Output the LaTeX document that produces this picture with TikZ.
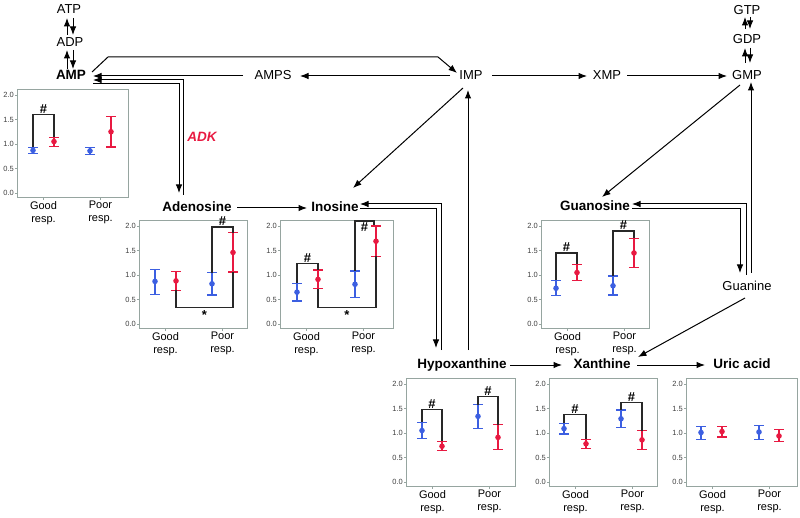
\documentclass[tikz,border=0pt]{standalone}
\usepackage{fontspec}
\setmainfont{Liberation Sans}
\usetikzlibrary{arrows.meta, calc}
\definecolor{grpblue}{RGB}{60,95,225}
\definecolor{grpred}{RGB}{232,25,65}
\definecolor{framegray}{RGB}{150,165,160}
\definecolor{brkgray}{RGB}{40,40,40}

% error bar: colour, x, mean, low, high
\newcommand{\ebar}[5]{%
  \draw[#1, line width=1.2pt] (#2-5,#4) -- (#2+5,#4) (#2,#4) -- (#2,#5) (#2-5,#5) -- (#2+5,#5);
  \fill[#1] (#2,#3) circle[radius=2.8pt];}

% panel: name, left edge, zero line, width
\newenvironment{panel}[4]{%
  \begin{scope}[shift={(#2pt,-#3pt)}, y=49pt, name prefix=#1-]
  \draw[framegray, line width=0.8pt] (0,-0.09) rectangle (#4,2.11);
  \foreach \v [count=\i] in {0.0,0.5,1.0,1.5,2.0}
    \draw[framegray] (0,\v) -- (-2.5,\v) node[left, ticklbl] (tk\i) {\v};
  \draw[framegray] (26.5,-0.09) -- ++(0,-2.5pt) node[xlbl] (good) {Good\\resp.};
  \draw[framegray] (83.5,-0.09) -- ++(0,-2.5pt) node[xlbl] (poor) {Poor\\resp.};
}{\end{scope}}

\begin{document}
\begin{tikzpicture}[x=1pt, y=-1pt,
  met/.style={font=\fontsize{13}{15}\selectfont, inner sep=1pt, text height=9.5pt, text depth=2.5pt},
  metb/.style={met, font=\fontsize{13.5}{15}\selectfont\bfseries},
  arr/.style={-{Latex[length=8.5pt,width=6.5pt]}, line width=1pt},
  ticklbl/.style={font=\fontsize{7.5}{8}\selectfont, text=black!75, inner sep=0.5pt},
  xlbl/.style={font=\fontsize{11}{13}\selectfont, text=black, align=center, inner sep=1pt, anchor=north},
  brk/.style={brkgray, line width=1.3pt},
  sig/.style={font=\fontsize{13}{13}\selectfont\bfseries, text=black, inner sep=0.5pt}]
\useasboundingbox (0,0) rectangle (800,518);

% metabolites
\node[met] (atp) at (69,10) {ATP};
\node[met] (adp) at (70,43) {ADP};
\node[metb] (amp) at (71,76) {AMP};
\node[met] (amps) at (273,76) {AMPS};
\node[met] (imp) at (471,76) {IMP};
\node[met] (xmp) at (607,76) {XMP};
\node[met] (gmp) at (747,76) {GMP};
\node[met] (gdp) at (747,40) {GDP};
\node[met] (gtp) at (747,11) {GTP};
\node[metb] (ado) at (197,208) {Adenosine};
\node[metb] (ino) at (335,208) {Inosine};
\node[metb] (guo) at (595,207) {Guanosine};
\node[met] (gua) at (747,287) {Guanine};
\node[metb] (hyp) at (462,365) {Hypoxanthine};
\node[metb] (xan) at (602,365) {Xanthine};
\node[metb] (uri) at (742,365) {Uric acid};
\node[font=\fontsize{13.5}{15}\selectfont\bfseries\itshape, text=grpred] (adk) at (202,137) {ADK};

% phosphate pools
\draw[arr] ([shift={(4,8)}]atp.center) -- ([shift={(3,-8)}]adp.center);
\draw[arr] ([shift={(-3,-8)}]adp.center) -- ([shift={(-2,8)}]atp.center);
\draw[arr] ([shift={(3,7)}]adp.center) -- ([shift={(2,-7)}]amp.center);
\draw[arr] ([shift={(-4,-7)}]amp.center) -- ([shift={(-3,7)}]adp.center);
\draw[arr] ([shift={(3,6)}]gtp.center) -- ([shift={(3,-11)}]gdp.center);
\draw[arr] ([shift={(-2,-11)}]gdp.center) -- ([shift={(-2,6)}]gtp.center);
\draw[arr] ([shift={(3,8)}]gdp.center) -- ([shift={(3,-13)}]gmp.center);
\draw[arr] ([shift={(-2,-13)}]gmp.center) -- ([shift={(-2,8)}]gdp.center);

% pathway
\draw[arr] ([shift={(21,-4)}]amp.center) -- ++(16,-15) -- ([shift={(-33,-19)}]imp.center) -- ([shift={(-14,-3)}]imp.center);
\draw[arr] ([shift={(-21,0)}]imp.center) -- ([shift={(27,0)}]amps.center);
\draw[arr] ([shift={(-30,0)}]amps.center) -- ([shift={(22,0)}]amp.center);
\draw[arr] ([shift={(-14,-13)}]ado.center) |- ([shift={(22,4)}]amp.center);
\draw[arr] ([shift={(22,8)}]amp.center) -| ([shift={(-18,-15)}]ado.center);
\draw[arr] ([shift={(21,0)}]imp.center) -- ([shift={(-20,0)}]xmp.center);
\draw[arr] ([shift={(20,0)}]xmp.center) -- ([shift={(-20,0)}]gmp.center);
\draw[arr] ([shift={(-8,12)}]imp.center) -- ([shift={(18,-20)}]ino.center);
\draw[arr] ([shift={(6,-15)}]hyp.center) -- ([shift={(-3,14)}]imp.center);
\draw[arr] ([shift={(40,0)}]ado.center) -- ([shift={(-28,0)}]ino.center);
\draw[arr] ([shift={(25,1)}]ino.center) -| ([shift={(-26,-17)}]hyp.center);
\draw[arr] ([shift={(-21,-15)}]hyp.center) |- ([shift={(25,-4)}]ino.center);
\draw[arr] ([shift={(-7,9)}]gmp.center) -- ([shift={(7,-10)}]guo.center);
\draw[arr] ([shift={(4,-14)}]gua.center) -- ([shift={(4,6)}]gmp.center);
\draw[arr] ([shift={(37,2)}]guo.center) -| ([shift={(-7,-14)}]gua.center);
\draw[arr] ([shift={(-1,-12)}]gua.center) |- ([shift={(37,-3)}]guo.center);
\draw[arr] ([shift={(-2,11)}]gua.center) -- ([shift={(36,-8)}]xan.center);
\draw[arr] ([shift={(48,0)}]hyp.center) -- ([shift={(-40,0)}]xan.center);
\draw[arr] ([shift={(35,0)}]xan.center) -- ([shift={(-37,0)}]uri.center);

% panels
\begin{panel}{amp}{17}{193}{111}
  \ebar{grpblue}{16}{0.87}{0.80}{0.93}
  \ebar{grpred}{37}{1.05}{0.95}{1.14}
  \ebar{grpblue}{73}{0.86}{0.79}{0.93}
  \ebar{grpred}{94}{1.25}{0.94}{1.56}
  \draw[brk] (16,0.93) |- node[pos=0.75,above,sig] (s1) {\#} (37,1.6) -- (37,1.14);
\end{panel}

\begin{panel}{ado}{139}{324}{108}
  \ebar{grpblue}{16}{0.87}{0.60}{1.12}
  \ebar{grpred}{37}{0.88}{0.69}{1.07}
  \ebar{grpblue}{73}{0.82}{0.59}{1.05}
  \ebar{grpred}{94}{1.46}{1.06}{1.86}
  \draw[brk] (73,1.05) |- node[pos=0.75,above,sig] (s1) {\#} (94,1.98) -- (94,1.86);
  \draw[brk] (37,0.69) |- node[pos=0.75,below=2pt,sig] (s2) {*} (94,0.33) -- (94,1.06);
\end{panel}

\begin{panel}{ino}{280}{324}{113}
  \ebar{grpblue}{17}{0.65}{0.47}{0.83}
  \ebar{grpred}{38}{0.91}{0.72}{1.10}
  \ebar{grpblue}{75}{0.81}{0.54}{1.08}
  \ebar{grpred}{96}{1.69}{1.38}{2.00}
  \draw[brk] (17,0.83) |- node[pos=0.75,above,sig] (s1) {\#} (38,1.24) -- (38,1.10);
  \draw[brk] (75,1.08) |- node[pos=0.75,below,sig] (s2) {\#} (94,2.10) -- (94,2.03);
  \draw[brk] (38,0.72) |- node[pos=0.75,below=2pt,sig] (s3) {*} (96,0.33) -- (96,1.38);
\end{panel}

\begin{panel}{guo}{541}{324}{108}
  \ebar{grpblue}{15}{0.73}{0.58}{0.89}
  \ebar{grpred}{36}{1.05}{0.88}{1.22}
  \ebar{grpblue}{72}{0.78}{0.59}{0.98}
  \ebar{grpred}{93}{1.45}{1.16}{1.75}
  \draw[brk] (15,0.89) |- node[pos=0.75,above,sig] (s1) {\#} (36,1.45) -- (36,1.22);
  \draw[brk] (72,0.98) |- node[pos=0.75,above,sig] (s2) {\#} (93,1.90) -- (93,1.75);
\end{panel}

\begin{panel}{hyp}{406}{482}{109}
  \ebar{grpblue}{16}{1.05}{0.88}{1.22}
  \ebar{grpred}{36}{0.73}{0.64}{0.83}
  \ebar{grpblue}{72}{1.34}{1.10}{1.58}
  \ebar{grpred}{92}{0.91}{0.66}{1.17}
  \draw[brk] (16,1.22) |- node[pos=0.75,above,sig] (s1) {\#} (36,1.48) -- (36,0.83);
  \draw[brk] (72,1.58) |- node[pos=0.75,above,sig] (s2) {\#} (92,1.74) -- (92,1.17);
\end{panel}

\begin{panel}{xan}{549}{482}{108}
  \ebar{grpblue}{15}{1.09}{0.98}{1.20}
  \ebar{grpred}{37}{0.78}{0.69}{0.87}
  \ebar{grpblue}{72}{1.29}{1.12}{1.47}
  \ebar{grpred}{93}{0.86}{0.67}{1.05}
  \draw[brk] (15,1.20) |- node[pos=0.75,above,sig] (s1) {\#} (37,1.38) -- (37,0.87);
  \draw[brk] (72,1.47) |- node[pos=0.75,above,sig] (s2) {\#} (93,1.62) -- (93,1.05);
\end{panel}

\begin{panel}{uri}{686}{482}{111}
  \ebar{grpblue}{15}{1.01}{0.87}{1.14}
  \ebar{grpred}{36}{1.03}{0.92}{1.14}
  \ebar{grpblue}{73}{1.02}{0.87}{1.16}
  \ebar{grpred}{93}{0.94}{0.82}{1.07}
\end{panel}
\end{tikzpicture}
\end{document}
